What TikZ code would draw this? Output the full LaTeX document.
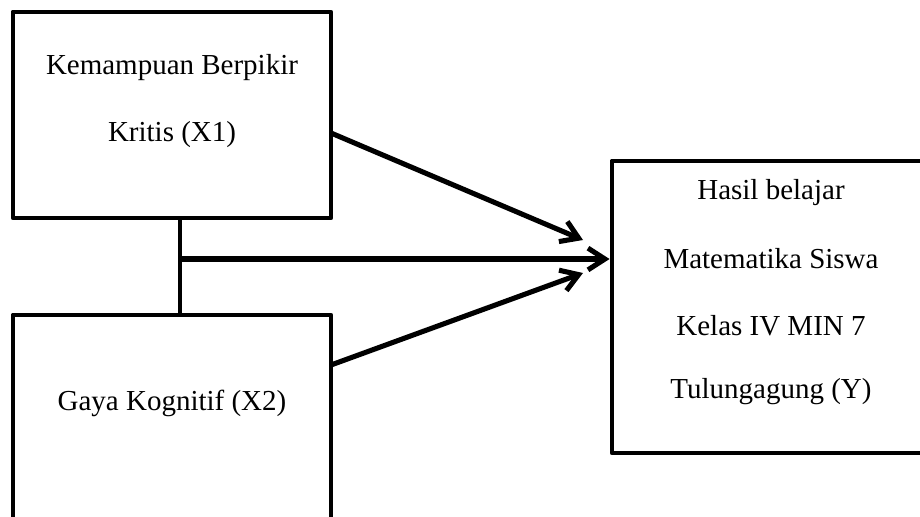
\documentclass[tikz,border=0pt]{standalone}
\usepackage{fontspec}
\setmainfont{Liberation Serif}
\usetikzlibrary{arrows.meta}
\begin{document}
\begin{tikzpicture}[x=0.414pt,y=-0.414pt,
  boxshape/.style={draw=black,line width=2pt,line join=round,fill=white,inner sep=0pt},
  txt/.style={font=\fontsize{12}{14}\selectfont,inner sep=0pt},
  link/.style={line width=2pt},
  arr/.style={line width=2.1pt,-{Straight Barb[length=7pt,width=9pt,line width=2.1pt]}}]
\clip (0,0) rectangle (920,517);
\useasboundingbox (0,0) rectangle (920,517);
\fill[white] (0,0) rectangle (920,517);
% boxes
\node[boxshape,minimum width=318*0.414pt,minimum height=206*0.414pt] (box1) at (172,115) {};
\node[boxshape,minimum width=318*0.414pt,minimum height=260*0.414pt] (box2) at (172,445) {};
\node[boxshape,minimum width=318*0.414pt,minimum height=292*0.414pt] (boxy) at (771,307) {};
% texts
\node[txt] (t1a) at (172,68) {Kemampuan Berpikir};
\node[txt] (t1b) at (172,135) {Kritis (X1)};
\node[txt] (t2) at (172,403) {Gaya Kognitif (X2)};
\node[txt] (ta) at (771,193) {Hasil belajar};
\node[txt] (tb) at (771,259) {Matematika Siswa};
\node[txt] (tc) at (771,326) {Kelas IV MIN 7};
\node[txt] (td) at (771,392) {Tulungagung (Y)};
% connectors
\coordinate (j) at (180,259);
\coordinate (s1) at (331,133);
\coordinate (e1) at (583,240);
\coordinate (s3) at (331,365);
\coordinate (e3) at (583,273);
\draw[link] (box1.south -| j) -- (box2.north -| j);
\draw[arr] (j) -- (boxy.west |- j);
\draw[arr] (s1) -- (e1);
\draw[arr] (s3) -- (e3);
\end{tikzpicture}
\end{document}
